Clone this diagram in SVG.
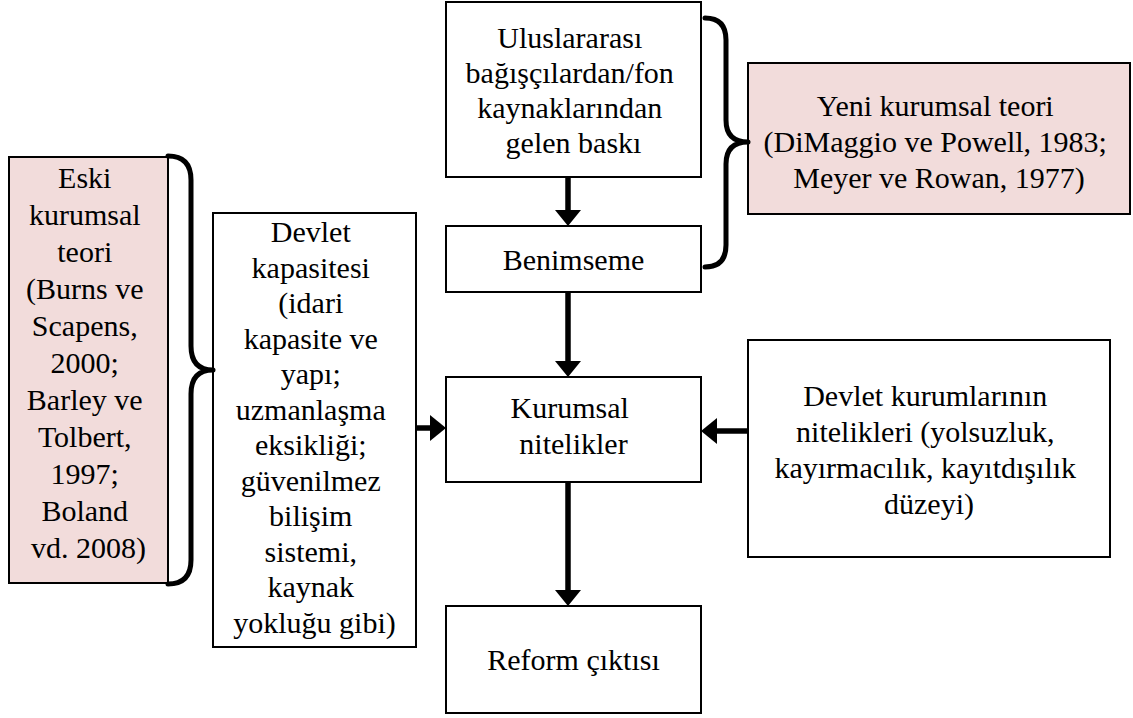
<svg xmlns="http://www.w3.org/2000/svg" width="1133" height="718" viewBox="0 0 1133 718">
<style>
.box{fill:#ffffff;stroke:#000;stroke-width:2}
.pink{fill:#f2dcdb;stroke:#000;stroke-width:2}
.t{font-family:"Liberation Serif","Times New Roman",serif;font-size:30px;fill:#000;text-anchor:middle}
.conn{stroke:#000;stroke-width:5.5;fill:none}
.brace{stroke:#000;stroke-width:5;fill:none;stroke-linecap:round;stroke-linejoin:round}
</style>
<defs>
<marker id="ah" markerUnits="userSpaceOnUse" markerWidth="16" markerHeight="26" refX="0" refY="13" orient="auto">
<path d="M0,0 L16,13 L0,26 z" fill="#000"/>
</marker>
</defs>
<rect width="1133" height="718" fill="#fff"/>

<g id="n-eski">
<rect class="pink" x="9" y="157" width="159" height="426"/>
<text class="t">
<tspan x="88.5" y="188">Eski</tspan>
<tspan x="88.5" y="225">kurumsal</tspan>
<tspan x="88.5" y="262">teori</tspan>
<tspan x="88.5" y="299">(Burns ve</tspan>
<tspan x="88.5" y="336">Scapens,</tspan>
<tspan x="88.5" y="373">2000;</tspan>
<tspan x="88.5" y="410">Barley ve</tspan>
<tspan x="88.5" y="447">Tolbert,</tspan>
<tspan x="88.5" y="484">1997;</tspan>
<tspan x="88.5" y="521">Boland</tspan>
<tspan x="88.5" y="558">vd. 2008)</tspan>
</text>
</g>

<g id="n-devlet">
<rect class="box" x="213" y="213" width="203" height="434"/>
<text class="t">
<tspan x="314.5" y="242">Devlet</tspan>
<tspan x="314.5" y="277.5">kapasitesi</tspan>
<tspan x="314.5" y="313">(idari</tspan>
<tspan x="314.5" y="348.5">kapasite ve</tspan>
<tspan x="314.5" y="384">yapı;</tspan>
<tspan x="314.5" y="419.5">uzmanlaşma</tspan>
<tspan x="314.5" y="455">eksikliği;</tspan>
<tspan x="314.5" y="490.5">güvenilmez</tspan>
<tspan x="314.5" y="526">bilişim</tspan>
<tspan x="314.5" y="561.5">sistemi,</tspan>
<tspan x="314.5" y="597">kaynak</tspan>
<tspan x="314.5" y="632.5">yokluğu gibi)</tspan>
</text>
</g>

<g id="n-baski">
<rect class="box" x="446" y="2" width="255" height="175"/>
<text class="t">
<tspan x="573.5" y="48">Uluslararası</tspan>
<tspan x="573.5" y="83">bağışçılardan/fon</tspan>
<tspan x="573.5" y="118">kaynaklarından</tspan>
<tspan x="573.5" y="153">gelen baskı</tspan>
</text>
</g>

<g id="n-benimseme">
<rect class="box" x="446" y="226" width="255" height="66"/>
<text class="t" x="573.5" y="270">Benimseme</text>
</g>

<g id="n-kurumsal">
<rect class="box" x="446" y="377" width="255" height="105"/>
<text class="t">
<tspan x="573.5" y="418">Kurumsal</tspan>
<tspan x="573.5" y="454">nitelikler</tspan>
</text>
</g>

<g id="n-reform">
<rect class="box" x="446" y="606" width="255" height="107"/>
<text class="t" x="573.5" y="670">Reform çıktısı</text>
</g>

<g id="n-yeni">
<rect class="pink" x="748" y="63" width="382" height="151"/>
<text class="t">
<tspan x="939" y="116">Yeni kurumsal teori</tspan>
<tspan x="939" y="152">(DiMaggio ve Powell, 1983;</tspan>
<tspan x="939" y="188">Meyer ve Rowan, 1977)</tspan>
</text>
</g>

<g id="n-devletkurum">
<rect class="box" x="748" y="340" width="362" height="217"/>
<text class="t">
<tspan x="929" y="406">Devlet kurumlarının</tspan>
<tspan x="929" y="442">nitelikleri (yolsuzluk,</tspan>
<tspan x="929" y="478">kayırmacılık, kayıtdışılık</tspan>
<tspan x="929" y="514">düzeyi)</tspan>
</text>
</g>

<g id="connectors">
<line class="conn" x1="568" y1="178" x2="568" y2="210" marker-end="url(#ah)"/>
<line class="conn" x1="568" y1="293" x2="568" y2="361" marker-end="url(#ah)"/>
<line class="conn" x1="568" y1="483" x2="568" y2="590" marker-end="url(#ah)"/>
<line class="conn" x1="417" y1="428" x2="430" y2="428" marker-end="url(#ah)"/>
<line class="conn" x1="747" y1="431" x2="717" y2="431" marker-end="url(#ah)"/>
<path class="brace" d="M168,156 Q191,156 191,180 L191,346 Q191,370 213,370 Q191,370 191,394 L191,560 Q191,584 168,584"/>
<path class="brace" d="M705,18 Q726,18 726,40 L726,120 Q726,142 748,142 Q726,142 726,164 L726,245 Q726,267 705,267"/>
</g>
</svg>
